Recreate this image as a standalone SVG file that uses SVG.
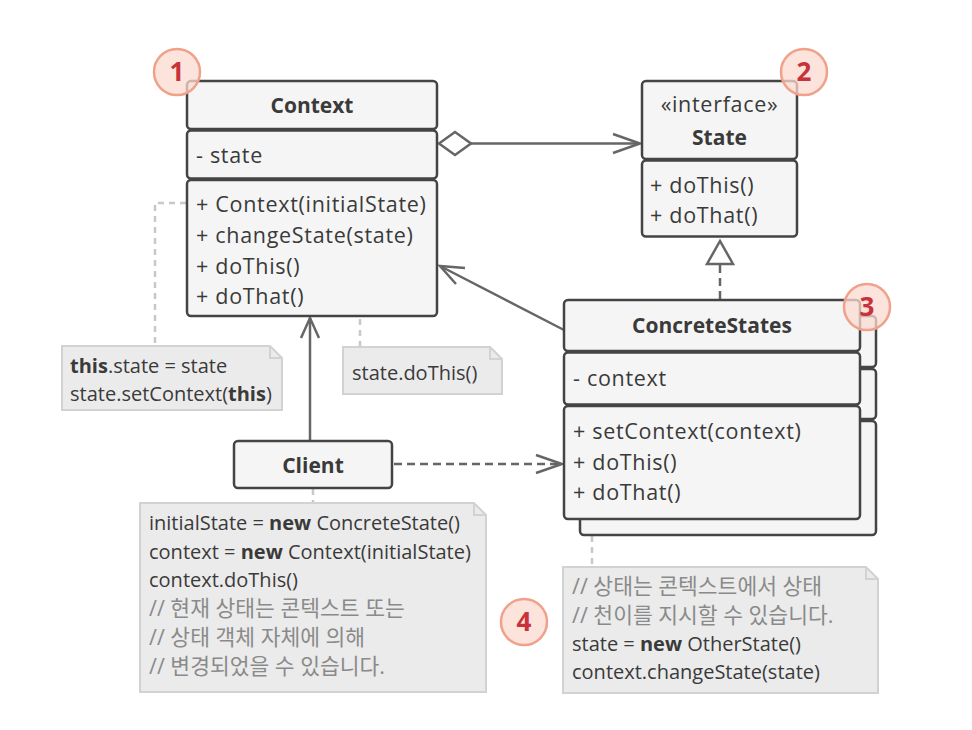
<svg xmlns="http://www.w3.org/2000/svg" width="972" height="730" viewBox="0 0 972 730">
<style>
.box{fill:#f5f5f5;stroke:#444;stroke-width:2.5}
.t{font-family:"Open Sans","Noto Sans","Noto Sans CJK KR",sans-serif;font-size:21.5px;fill:#3a3a3a;letter-spacing:0.7px}
.b{font-weight:bold;font-size:21px;letter-spacing:0}
.note{fill:#ebebeb;stroke:#d2d2d2;stroke-width:2}
.nt{font-family:"Open Sans","Noto Sans","Noto Sans CJK KR",sans-serif;font-size:20px;fill:#3a3a3a}
.nb{font-weight:bold}
.cm{fill:#8a8a8a;font-size:21.5px}
.ln{fill:none;stroke:#666;stroke-width:2.5}
.dl{fill:none;stroke:#666;stroke-width:2.5;stroke-dasharray:8 5}
.gl{fill:none;stroke:#c8c8c8;stroke-width:2.5;stroke-dasharray:6 5}
.badge circle{fill:#fbd9cf;fill-opacity:0.75;stroke:#f0a18a;stroke-width:2.5}
.badge text{font-family:"Open Sans","Noto Sans",sans-serif;font-size:26px;font-weight:bold;fill:#c8323a;text-anchor:middle}
</style>
<rect width="972" height="730" fill="#fff"/>

<g id="connectors">
  <!-- aggregation Context -> State -->
  <line class="ln" x1="471" y1="143.5" x2="640" y2="143.5"/>
  <polygon points="439,143.5 455,132 471,143.5 455,155" fill="#fff" stroke="#666" stroke-width="2.5"/>
  <polyline class="ln" points="613,134 640,143.5 613,153"/>
  <!-- ConcreteStates -> Context -->
  <line class="ln" x1="564" y1="330" x2="440" y2="266"/>
  <polyline class="ln" points="465,268 440,266 456,284"/>
  <!-- Client -> Context -->
  <line class="ln" x1="310" y1="441" x2="310" y2="318"/>
  <polyline class="ln" points="301,338 310,318 319,338"/>
  <!-- Client -> ConcreteStates dashed -->
  <line class="dl" x1="394" y1="464" x2="561" y2="464"/>
  <polyline class="ln" points="536,455 562,464 536,473"/>
  <!-- ConcreteStates -> State realization -->
  <line class="dl" x1="720" y1="299" x2="720" y2="265"/>
  <polygon points="720,241 707,264 733,264" fill="#fff" stroke="#666" stroke-width="2.5"/>
  <!-- note connectors -->
  <polyline class="gl" points="186,203 155,203 155,346"/>
  <circle cx="318" cy="268" r="4.5" fill="#fff" stroke="#c8c8c8" stroke-width="2"/>
  <polyline class="gl" points="323,268 360,268 360,346"/>
  <line class="gl" x1="313" y1="489" x2="313" y2="503"/>
  <line class="gl" x1="592" y1="536" x2="592" y2="567"/>
</g>

<g id="context">
  <rect class="box" x="187" y="81" width="250" height="48" rx="4"/>
  <rect class="box" x="187" y="130.5" width="250" height="48" rx="4"/>
  <rect class="box" x="187" y="180" width="250" height="136" rx="4"/>
  <text class="t b" x="312" y="113" text-anchor="middle">Context</text>
  <text class="t" x="196" y="163">- state</text>
  <text class="t" x="196" y="212">+ Context(initialState)</text>
  <text class="t" x="196" y="243">+ changeState(state)</text>
  <text class="t" x="196" y="274">+ doThis()</text>
  <text class="t" x="196" y="304">+ doThat()</text>
</g>

<g id="state">
  <rect class="box" x="642" y="81" width="155" height="78" rx="4"/>
  <rect class="box" x="642" y="160.5" width="155" height="76" rx="4"/>
  <text class="t" x="719.5" y="112" text-anchor="middle">«interface»</text>
  <text class="t b" x="719.5" y="145" text-anchor="middle">State</text>
  <text class="t" x="650" y="193">+ doThis()</text>
  <text class="t" x="650" y="223">+ doThat()</text>
</g>

<g id="concrete-states">
  <rect class="box" x="580" y="316" width="296" height="51" rx="4"/>
  <rect class="box" x="580" y="369" width="296" height="50" rx="4"/>
  <rect class="box" x="580" y="421" width="296" height="114" rx="4"/>
  <rect class="box" x="564" y="300" width="296" height="51" rx="4"/>
  <rect class="box" x="564" y="352.5" width="296" height="52" rx="4"/>
  <rect class="box" x="564" y="406" width="296" height="113" rx="4"/>
  <text class="t b" x="712" y="333" text-anchor="middle">ConcreteStates</text>
  <text class="t" x="573" y="386">- context</text>
  <text class="t" x="573" y="439">+ setContext(context)</text>
  <text class="t" x="573" y="470">+ doThis()</text>
  <text class="t" x="573" y="500">+ doThat()</text>
</g>

<g id="client">
  <rect x="234" y="441" width="158" height="47" rx="4" fill="#f5f5f5" stroke="#444" stroke-width="2.5"/>
  <text class="t b" x="313" y="473" text-anchor="middle">Client</text>
</g>

<g id="note-context">
  <path class="note" d="M62,346 H270 L282,358 V410 H62 Z"/>
  <path d="M270,346 V358 H282" fill="none" stroke="#d2d2d2" stroke-width="2"/>
  <text class="nt" x="70" y="373"><tspan class="nb">this</tspan>.state = state</text>
  <text class="nt" x="70" y="401">state.setContext(<tspan class="nb">this</tspan>)</text>
</g>

<g id="note-dothis">
  <path class="note" d="M343,347 H490 L502,359 V394 H343 Z"/>
  <path d="M490,347 V359 H502" fill="none" stroke="#d2d2d2" stroke-width="2"/>
  <text class="nt" x="352" y="380">state.doThis()</text>
</g>

<g id="note-client">
  <path class="note" d="M140,503 H474 L486,515 V692 H140 Z"/>
  <path d="M474,503 V515 H486" fill="none" stroke="#d2d2d2" stroke-width="2"/>
  <text class="nt" x="149" y="530">initialState = <tspan class="nb">new</tspan> ConcreteState()</text>
  <text class="nt" x="149" y="559">context = <tspan class="nb">new</tspan> Context(initialState)</text>
  <text class="nt" x="149" y="587">context.doThis()</text>
  <text class="nt cm" x="149" y="616">// 현재 상태는 콘텍스트 또는</text>
  <text class="nt cm" x="149" y="645">// 상태 객체 자체에 의해</text>
  <text class="nt cm" x="149" y="674">// 변경되었을 수 있습니다.</text>
</g>

<g id="note-concrete">
  <path class="note" d="M563,567 H866 L878,579 V693 H563 Z"/>
  <path d="M866,567 V579 H878" fill="none" stroke="#d2d2d2" stroke-width="2"/>
  <text class="nt cm" x="572" y="594">// 상태는 콘텍스트에서 상태</text>
  <text class="nt cm" x="572" y="623">// 천이를 지시할 수 있습니다.</text>
  <text class="nt" x="572" y="651">state = <tspan class="nb">new</tspan> OtherState()</text>
  <text class="nt" x="572" y="679">context.changeState(state)</text>
</g>

<g id="badge-1" class="badge"><circle cx="177" cy="72" r="23"/><text x="177" y="81">1</text></g>
<g id="badge-2" class="badge"><circle cx="804" cy="72" r="23"/><text x="804" y="81">2</text></g>
<g id="badge-3" class="badge"><circle cx="867" cy="307" r="23"/><text x="867" y="316">3</text></g>
<g id="badge-4" class="badge"><circle cx="524" cy="622" r="23"/><text x="524" y="631">4</text></g>
</svg>
